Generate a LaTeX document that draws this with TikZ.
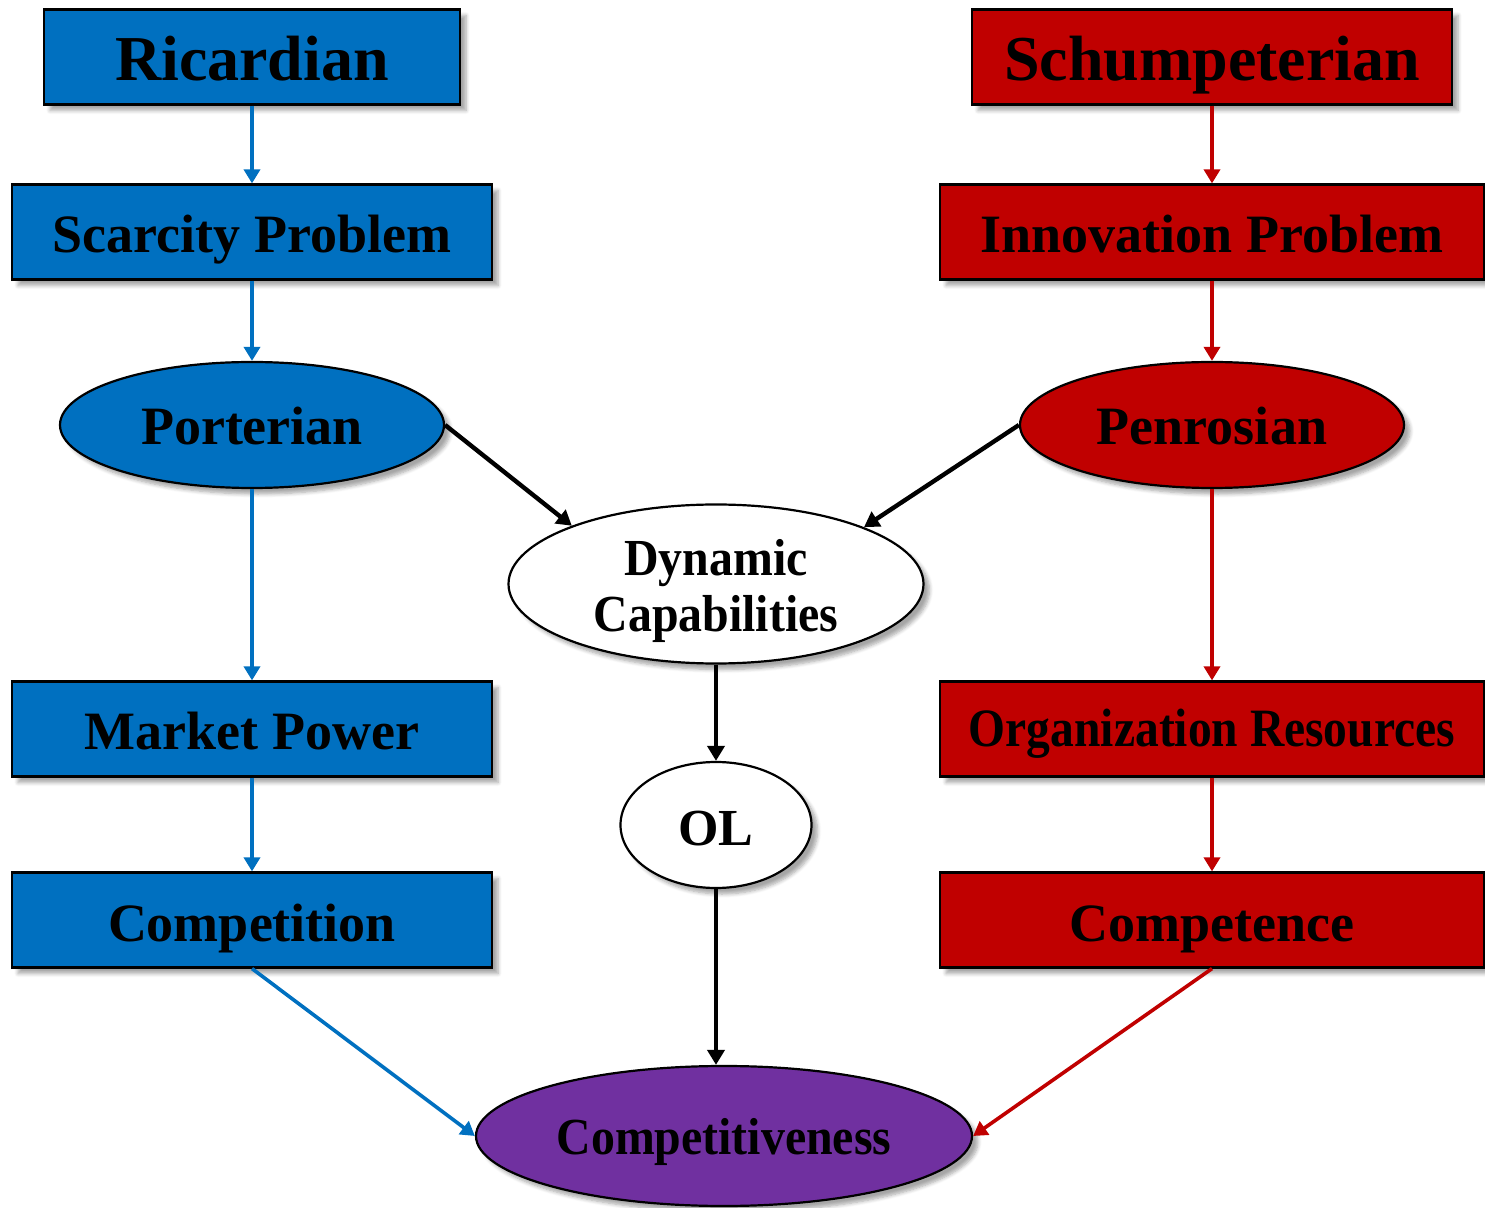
\documentclass[tikz,border=0pt]{standalone}
\usepackage{fontspec}
\setmainfont{Liberation Serif}
\newfontfamily\narrowfont{Liberation Serif}[FakeStretch=0.92]
\newfontfamily\orgfont{Liberation Serif}[FakeStretch=0.88]
\usetikzlibrary{arrows.meta,positioning,shapes.geometric,shadows.blur}
\definecolor{ricblue}{HTML}{0070C0}
\definecolor{schred}{HTML}{C00000}
\definecolor{compurple}{HTML}{7030A0}

\begin{document}
\begin{tikzpicture}[x=0.5pt,y=-0.5pt,
  base/.style={draw=black,line width=1.1pt,font=\bfseries,inner sep=0pt,align=center,text depth=0pt,
    blur shadow={shadow xshift=3pt,shadow yshift=-3pt,shadow opacity=35,shadow blur steps=6}},
  box/.style={base,rectangle,minimum height=47.5pt},
  oval/.style={base,ellipse},
  bluebox/.style={box,fill=ricblue},
  redbox/.style={box,fill=schred},
  big/.style={font=\fontsize{32}{35}\bfseries\selectfont,text height=24pt},
  mid/.style={font=\fontsize{27}{30}\bfseries\selectfont,text height=21pt},
  ar/.style={-{Triangle[length=7pt,width=8pt]},line width=1.8pt},
  bar/.style={ar,draw=ricblue,fill=ricblue},
  rar/.style={ar,draw=schred,fill=schred},
  kar/.style={ar,draw=black,line width=2.2pt,-{Triangle[length=7.5pt,width=8.5pt]}}
]
\useasboundingbox (0,0) rectangle (1485,1208);
% left column
\node[bluebox,big,minimum width=208pt] (ric) at (252,57) {Ricardian};
\node[bluebox,mid,minimum width=240pt] (scar) at (252,232) {Scarcity Problem};
\node[oval,mid,fill=ricblue,minimum width=192pt,minimum height=63pt,text height=20pt] (port) at (252,425) {Porterian};
\node[bluebox,mid,minimum width=240pt] (mkt) at (252,729) {Market Power};
\node[bluebox,mid,minimum width=240pt] (compn) at (252,920) {Competition};
% right column
\node[redbox,big,minimum width=240pt] (schu) at (1212,57) {Schumpeterian};
\node[redbox,mid,minimum width=272pt] (innov) at (1212,232) {Innovation Problem};
\node[oval,mid,fill=schred,minimum width=192pt,minimum height=63pt,text height=20pt] (penr) at (1212,425) {Penrosian};
\node[redbox,minimum width=272pt,font=\fontsize{27}{30}\orgfont\bfseries,text height=18pt] (orgres) at (1212,729) {Organization Resources};
\node[redbox,mid,minimum width=272pt] (compc) at (1212,920) {Competence};
% middle
\node[oval,fill=white,minimum width=207.5pt,minimum height=79.5pt,font=\fontsize{26}{28}\narrowfont\bfseries] (dyncap) at (716,584)
  {\raisebox{13.5pt}{\begin{tabular}{@{}c@{}}Dynamic\\Capabilities\end{tabular}}};
\node[oval,fill=white,minimum width=95.5pt,minimum height=63pt,font=\fontsize{26}{29}\bfseries\selectfont,text height=20pt] (ol) at (716,825) {OL};
\node[oval,fill=compurple,minimum width=248pt,minimum height=70pt,font=\fontsize{26}{29}\narrowfont\bfseries,text height=18pt] (compv) at (724,1136) {Competitiveness};
% connectors
\draw[bar] (ric) -- (scar);
\draw[bar] (scar) -- (port);
\draw[bar] (port) -- (mkt);
\draw[bar] (mkt) -- (compn);
\draw[bar] (compn.south) -- (compv.west);
\draw[rar] (schu) -- (innov);
\draw[rar] (innov) -- (penr);
\draw[rar] (penr) -- (orgres);
\draw[rar] (orgres) -- (compc);
\draw[rar] (compc.south) -- (compv.east);
\draw[kar] (port.east) -- (dyncap.158);
\draw[kar] (penr.west) -- (dyncap.21);
\draw[kar] (dyncap) -- (ol);
\draw[kar] (ol.south) -- (ol.south |- compv.north);
\end{tikzpicture}
\end{document}
